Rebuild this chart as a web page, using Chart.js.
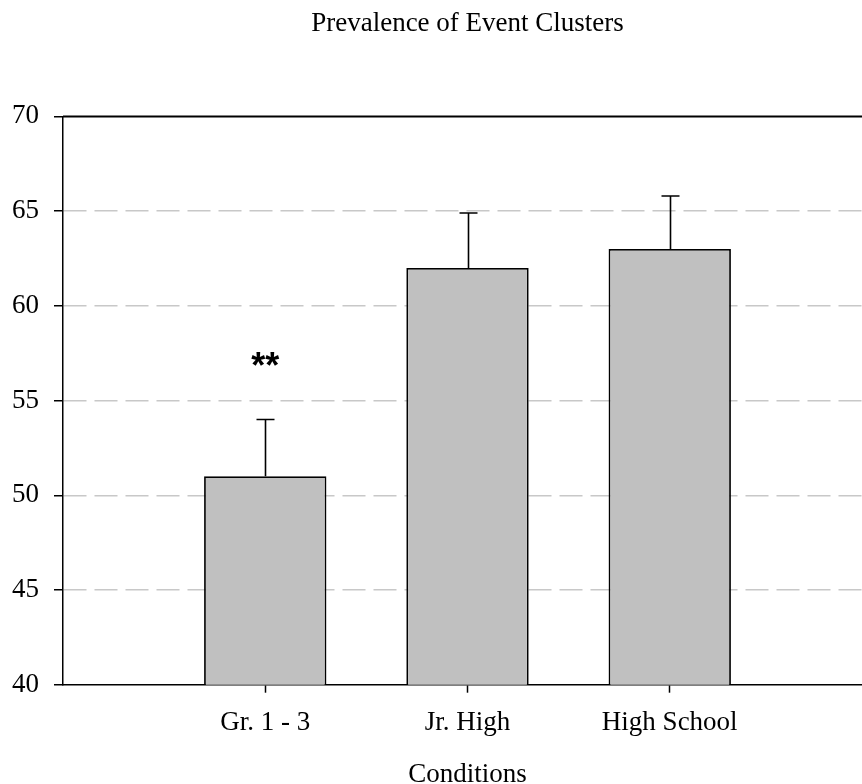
<!DOCTYPE html>
<html>
<head>
<meta charset="utf-8">
<script src="https://cdn.jsdelivr.net/npm/chart.js@4.4.1/dist/chart.umd.min.js"></script>
<style>
  html, body { margin: 0; padding: 0; background: #fff; overflow: hidden; }
  #wrap { width: 886px; height: 784px; }
</style>
</head>
<body>
<div id="wrap"><canvas id="chart" width="886" height="784"></canvas></div>
<script>
const categories = ["Gr. 1 - 3", "Jr. High", "High School"];
const means = [51, 62, 63];
const upperErrors = [54, 64.9, 65.8];
const markers = ["**", "", ""];
const markerValues = [57, null, null];
const yTicks = [40, 45, 50, 55, 60, 65, 70];

// one empty slot either side so the bars sit where the original put them
const labels = [""].concat(categories, [""]);
const barData = [null].concat(means, [null]);
const errData = [null].concat(upperErrors, [null]);
const markData = [""].concat(markers, [""]);
const markPos = [null].concat(markerValues, [null]);

const serif = "'Liberation Serif', 'Times New Roman', serif";

const errorBars = {
    id: "errorBars",
    afterDatasetsDraw(chart) {
        const ctx = chart.ctx;
        const yScale = chart.scales.y;
        const meta = chart.getDatasetMeta(0);
        ctx.save();
        ctx.strokeStyle = "#000";
        ctx.lineWidth = 1.6;
        meta.data.forEach((bar, i) => {
            if (errData[i] == null) return;
            const x = Math.round(bar.x) + 0.5;
            const y0 = yScale.getPixelForValue(barData[i]);
            const y1 = yScale.getPixelForValue(errData[i]);
            ctx.beginPath();
            ctx.moveTo(x, y0);
            ctx.lineTo(x, y1);
            ctx.moveTo(x - 9, y1);
            ctx.lineTo(x + 9, y1);
            ctx.stroke();
        });
        // significance markers
        ctx.fillStyle = "#000";
        ctx.font = "bold 36px 'Liberation Sans', Arial, sans-serif";
        ctx.textAlign = "center";
        ctx.textBaseline = "middle";
        meta.data.forEach((bar, i) => {
            if (!markData[i]) return;
            ctx.fillText(markData[i], bar.x, yScale.getPixelForValue(markPos[i]) + 5);
        });
        // top frame line
        const a = chart.chartArea;
        ctx.lineWidth = 2;
        ctx.beginPath();
        ctx.moveTo(a.left, a.top);
        ctx.lineTo(a.right, a.top);
        ctx.stroke();
        ctx.restore();
    }
};

new Chart(document.getElementById("chart"), {
    type: "bar",
    data: {
        labels: labels,
        datasets: [{
            data: barData,
            backgroundColor: "#c0c0c0",
            borderColor: "#000",
            borderWidth: 1.8,
            categoryPercentage: 0.605,
            barPercentage: 1
        }]
    },
    options: {
        responsive: false,
        animation: false,
        layout: { padding: { left: -3, right: 0, top: 0, bottom: 0 } },
        plugins: {
            legend: { display: false },
            tooltip: { enabled: false },
            title: {
                display: true,
                text: "Prevalence of Event Clusters",
                fullSize: false,
                color: "#000",
                font: { family: serif, size: 27, weight: "normal", lineHeight: 1.2 },
                padding: { top: 8, bottom: 76 }
            }
        },
        scales: {
            x: {
                offset: false,
                grid: {
                    offset: false,
                    drawOnChartArea: false,
                    tickLength: 8,
                    tickWidth: 1.5,
                    tickColor: (c) => (labels[c.index] ? "#000" : "rgba(0,0,0,0)")
                },
                border: { color: "#000", width: 1.5 },
                ticks: {
                    color: "#000",
                    padding: 14,
                    font: { family: serif, size: 27, lineHeight: 1.2 },
                    maxRotation: 0,
                    autoSkip: false
                },
                title: {
                    display: true,
                    text: "Conditions",
                    color: "#000",
                    font: { family: serif, size: 27, lineHeight: 0.7 },
                    padding: { top: 12, bottom: 0 }
                }
            },
            y: {
                min: 40,
                max: 70,
                afterBuildTicks: (scale) => {
                    scale.ticks = yTicks.map(v => ({ value: v }));
                },
                grid: {
                    color: (c) => (c.tick && (c.tick.value === 40 || c.tick.value === 70) ? "rgba(0,0,0,0)" : "#c8c8c8"),
                    lineWidth: 1.5,
                    tickLength: 9,
                    tickWidth: 1.5,
                    tickColor: "#000",
                    tickBorderDash: []
                },
                border: { color: "#000", width: 1.5, dash: [23, 8] },
                ticks: {
                    color: "#000",
                    padding: 15,
                    font: { family: serif, size: 27 }
                }
            }
        }
    },
    plugins: [errorBars]
});
</script>
</body>
</html>
